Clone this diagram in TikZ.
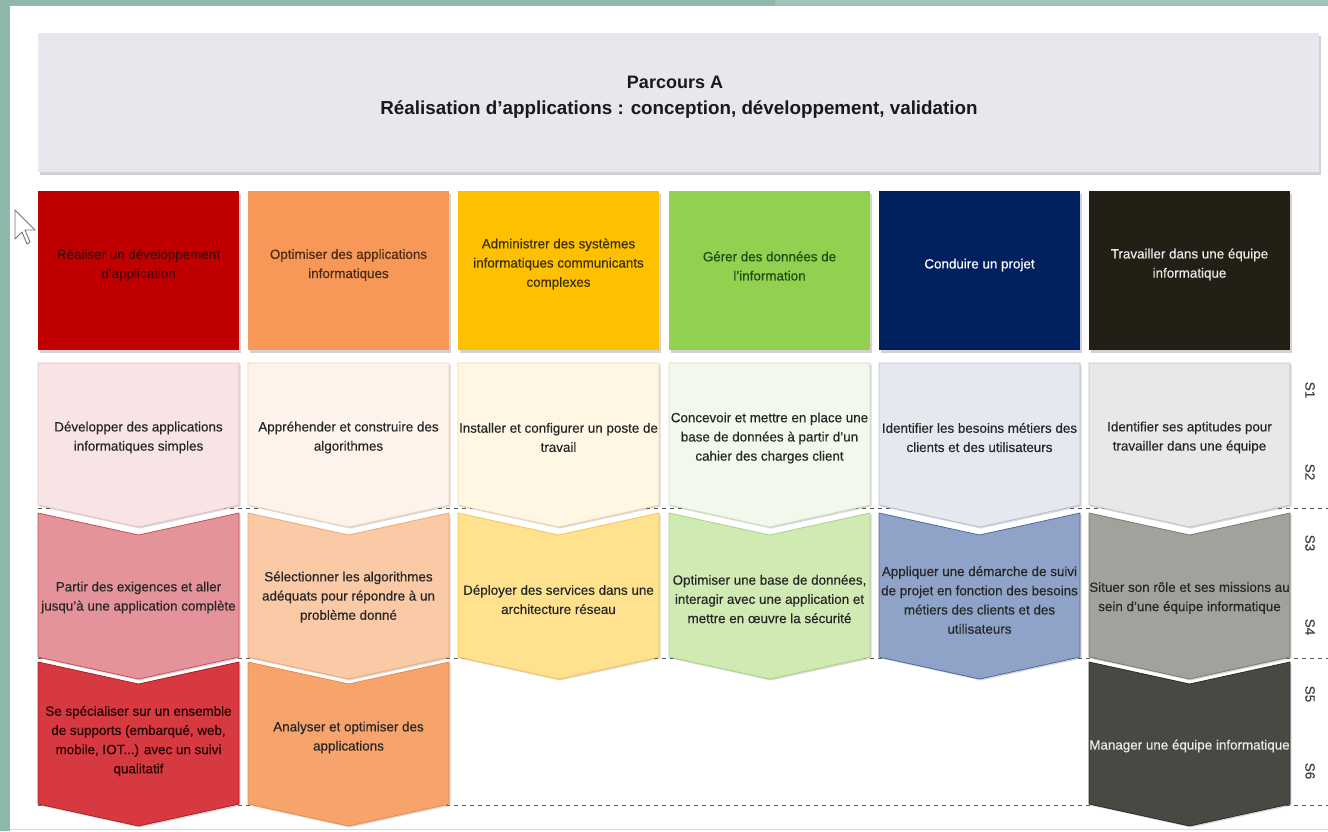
\documentclass[tikz,border=0pt]{standalone}
\usepackage{fontspec}
\setmainfont{Liberation Sans}
\newfontfamily\heavysans[FakeBold=0.35]{Liberation Sans}
\usetikzlibrary{shadows}
\definecolor{frameA}{HTML}{8FB8A8}
\definecolor{frameB}{HTML}{A0C3B9}
\definecolor{titlebg}{HTML}{E6E8EE}
\definecolor{hA}{HTML}{C00000}
\definecolor{hB}{HTML}{F79858}
\definecolor{hC}{HTML}{FFC000}
\definecolor{hD}{HTML}{92D050}
\definecolor{hE}{HTML}{002060}
\definecolor{hF}{HTML}{221F15}
\definecolor{tA}{HTML}{4A0808}
\definecolor{tB}{HTML}{4A2A10}
\definecolor{tC}{HTML}{3A3000}
\definecolor{tD}{HTML}{1F4A12}
% chevron fills / borders
\definecolor{a1}{HTML}{F8E4E5}\definecolor{a1d}{HTML}{E8BFC2}
\definecolor{a2}{HTML}{E5939A}\definecolor{a2d}{HTML}{C9505A}
\definecolor{a3}{HTML}{D63A40}\definecolor{a3d}{HTML}{B01E24}
\definecolor{b1}{HTML}{FEF3EA}\definecolor{b1d}{HTML}{F2D2B8}
\definecolor{b2}{HTML}{FAC9A6}\definecolor{b2d}{HTML}{EFA770}
\definecolor{b3}{HTML}{F6A46C}\definecolor{b3d}{HTML}{E88C4C}
\definecolor{c1}{HTML}{FFF6E4}\definecolor{c1d}{HTML}{F3D9A0}
\definecolor{c2}{HTML}{FFE18E}\definecolor{c2d}{HTML}{F4C552}
\definecolor{d1}{HTML}{F2F8EC}\definecolor{d1d}{HTML}{CCDDBB}
\definecolor{d2}{HTML}{D0EAB4}\definecolor{d2d}{HTML}{A9D382}
\definecolor{e1}{HTML}{E6E8F0}\definecolor{e1d}{HTML}{B8BFD3}
\definecolor{e2}{HTML}{8EA3C7}\definecolor{e2d}{HTML}{4F6A9A}
\definecolor{f1}{HTML}{E8E8E8}\definecolor{f1d}{HTML}{C2C2C2}
\definecolor{f2}{HTML}{A2A29C}\definecolor{f2d}{HTML}{7A7A74}
\definecolor{f3}{HTML}{4A4842}\definecolor{f3d}{HTML}{2E2D29}
\newcommand\mychev[6]{%
  \filldraw[chevbox, fill=#5, draw=#6] (#1,#2) -- (#1+100.5,#2+#4) -- (#1+201,#2) -- (#1+201,#3) -- (#1+100.5,#3+22) -- (#1,#3) -- cycle;}
\begin{document}
\begin{tikzpicture}[x=1pt,y=-1pt,
  chevbox/.style={line width=0.8pt, line join=miter, drop shadow={shadow xshift=1.5pt, shadow yshift=-1.5pt, opacity=0.3}},
  headbox/.style={draw=none, drop shadow={shadow xshift=2pt, shadow yshift=-2.5pt, opacity=0.35}},
  txt/.style={font=\heavysans\fontsize{13.4}{19.2}\selectfont, align=center, inner sep=0pt, text=black!85},
  semlab/.style={font=\heavysans\fontsize{13.5}{15}\selectfont, rotate=-90, text=black!75, inner sep=0pt},
  sepline/.style={draw=black!65, dashed, dash pattern=on 4pt off 4pt, line width=0.9pt}]
\useasboundingbox (0,0) rectangle (1328,831);
\fill[white] (0,0) rectangle (1328,831);
% frame strips
\fill[frameA] (0,0) rectangle (775,6);
\fill[frameB] (775,0) rectangle (1328,6);
\fill[frameA] (0,0) rectangle (10,831);
\draw[black!15, line width=0.8pt] (10,829.5) -- (1328,829.5);
% cursor
\filldraw[fill=white, draw=black!55, line width=0.9pt, line join=round]
  (15,210) -- (15,239) -- (22,232) -- (27,244) -- (30,242) -- (25,230) -- (35,230) -- cycle;
% title box
\filldraw[headbox, fill=titlebg] (38,33) rectangle (1319,172);
\node[font=\fontsize{18}{28}\selectfont\bfseries, text=black!90, inner sep=0pt] (title1) at (675,82) {Parcours A};
\node[font=\fontsize{18.8}{28}\selectfont\bfseries, text=black!90, inner sep=0pt] (title2) at (679,110) {R\'ealisation d’applications : conception, d\'eveloppement, validation};
% dashed separators
\draw[sepline] (38,508) -- (1328,508);
\draw[sepline] (38,658) -- (1328,658);
\draw[sepline] (38,805) -- (1328,805);
% column headers
\filldraw[headbox, fill=hA] (38,191) rectangle (239,350);
\filldraw[headbox, fill=hB] (248,191) rectangle (449,350);
\filldraw[headbox, fill=hC] (458,191) rectangle (659,350);
\filldraw[headbox, fill=hD] (669,191) rectangle (870,350);
\filldraw[headbox, fill=hE] (879,191) rectangle (1080,350);
\filldraw[headbox, fill=hF] (1089,191) rectangle (1290,350);
\node[txt, text=tA] (h1) at (138.5,265) {R\'ealiser un d\'eveloppement\\d’application};
\node[txt, text=tB] (h2) at (348.5,265) {Optimiser des applications\\informatiques};
\node[txt, text=tC] (h3) at (558.5,264) {Administrer des syst\`emes\\informatiques communicants\\complexes};
\node[txt, text=tD] (h4) at (769.5,266) {G\'erer des donn\'ees de\\l’information};
\node[txt, text=white] (h5) at (979.5,265) {Conduire un projet};
\node[txt, text=white!92!black] (h6) at (1189.5,264.5) {Travailler dans une \'equipe\\informatique};
% row 1 (S1-S2)
\mychev{38}{363}{505}{0}{a1}{a1d}
\mychev{248}{363}{505}{0}{b1}{b1d}
\mychev{458}{363}{505}{0}{c1}{c1d}
\mychev{669}{363}{505}{0}{d1}{d1d}
\mychev{879}{363}{505}{0}{e1}{e1d}
\mychev{1089}{363}{505}{0}{f1}{f1d}
% row 2 (S3-S4)
\mychev{38}{513}{657}{22}{a2}{a2d}
\mychev{248}{513}{657}{22}{b2}{b2d}
\mychev{458}{513}{657}{22}{c2}{c2d}
\mychev{669}{513}{657}{22}{d2}{d2d}
\mychev{879}{513}{657}{22}{e2}{e2d}
\mychev{1089}{513}{657}{22}{f2}{f2d}
% row 3 (S5-S6)
\mychev{38}{662}{804}{22}{a3}{a3d}
\mychev{248}{662}{804}{22}{b3}{b3d}
\mychev{1089}{662}{804}{22}{f3}{f3d}
% row 1 texts
\node[txt] (r11) at (138.5,437.5) {D\'evelopper des applications\\informatiques simples};
\node[txt] (r12) at (348.5,437.5) {Appr\'ehender et construire des\\algorithmes};
\node[txt] (r13) at (558.5,437.5) {Installer et configurer un poste de\\travail};
\node[txt] (r14) at (769.5,438) {Concevoir et mettre en place une\\base de donn\'ees \`a partir d’un\\cahier des charges client};
\node[txt] (r15) at (979.5,437.5) {Identifier les besoins m\'etiers des\\clients et des utilisateurs};
\node[txt] (r16) at (1189.5,437.5) {Identifier ses aptitudes pour\\travailler dans une \'equipe};
% row 2 texts
\node[txt] (r21) at (138.5,597.5) {Partir des exigences et aller\\jusqu’\`a une application compl\`ete};
\node[txt] (r22) at (348.5,597) {S\'electionner les algorithmes\\ad\'equats pour r\'epondre \`a un\\probl\`eme donn\'e};
\node[txt] (r23) at (558.5,599.5) {D\'eployer des services dans une\\architecture r\'eseau};
\node[txt] (r24) at (769.5,599) {Optimiser une base de donn\'ees,\\interagir avec une application et\\mettre en œuvre la s\'ecurit\'e};
\node[txt] (r25) at (979.5,600) {Appliquer une d\'emarche de suivi\\de projet en fonction des besoins\\m\'etiers des clients et des\\utilisateurs};
\node[txt] (r26) at (1189.5,598) {Situer son r\^ole et ses missions au\\sein d’une \'equipe informatique};
% row 3 texts
\node[txt, text=black!85!red] (r31) at (138.5,741) {Se sp\'ecialiser sur un ensemble\\de supports (embarqu\'e, web,\\mobile, IOT...) avec un suivi\\qualitatif};
\node[txt] (r32) at (348.5,737.5) {Analyser et optimiser des\\applications};
\node[txt, text=white!92!black] (r36) at (1189.5,746) {Manager une \'equipe informatique};
% semester labels
\node[semlab] (s1) at (1310,390) {S1};
\node[semlab] (s2) at (1310,472) {S2};
\node[semlab] (s3) at (1310,543) {S3};
\node[semlab] (s4) at (1310,627) {S4};
\node[semlab] (s5) at (1310,694) {S5};
\node[semlab] (s6) at (1310,771) {S6};
\end{tikzpicture}
\end{document}
